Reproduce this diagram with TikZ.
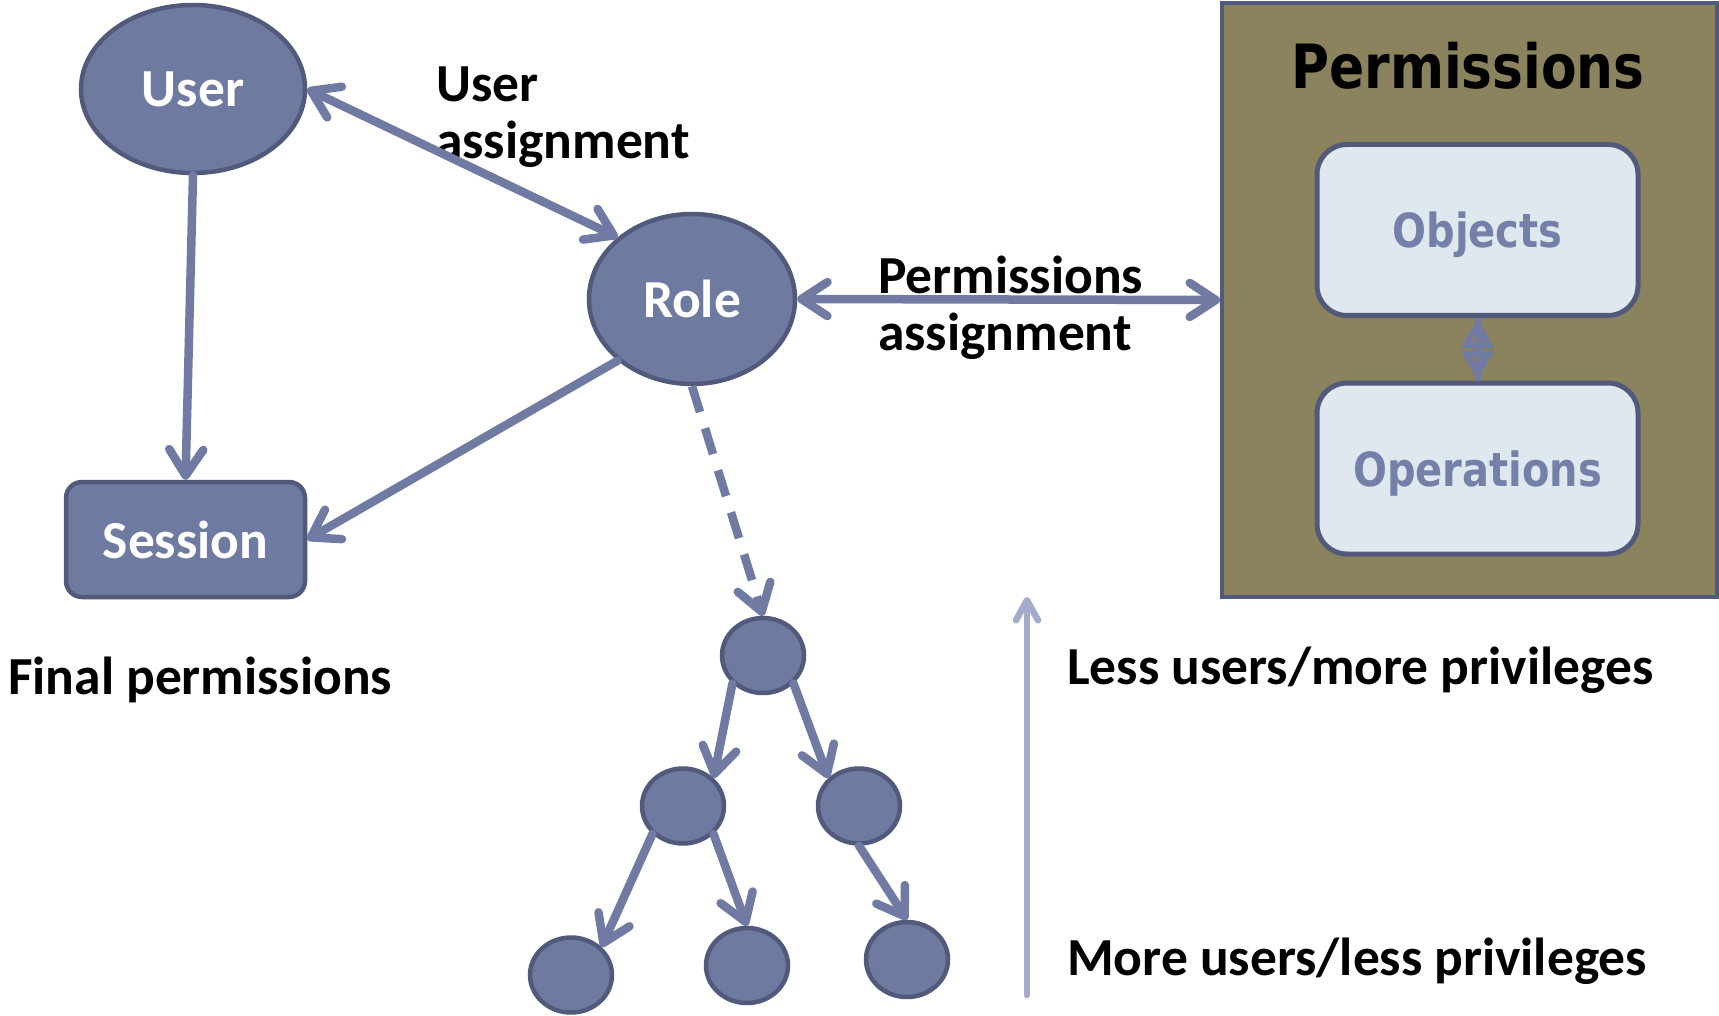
\documentclass[tikz,border=0pt]{standalone}
\usepackage{fontspec}
\usetikzlibrary{arrows.meta,shapes.geometric}
\newfontfamily\labfont{Carlito}
\newfontfamily\widefont{DejaVu Sans}[FakeStretch=0.85]
\definecolor{nodefill}{RGB}{111,122,160}
\definecolor{nodeedge}{RGB}{82,90,124}
\definecolor{linkcol}{RGB}{112,122,162}
\definecolor{olive}{RGB}{139,130,94}
\definecolor{paleblue}{RGB}{222,232,238}
\definecolor{softline}{RGB}{165,171,202}
\definecolor{objtext}{RGB}{117,128,168}

\begin{document}
\begin{tikzpicture}[x=1pt,y=-1pt,
  labtext/.style={font=\labfont\bfseries\fontsize{53.5}{57}\selectfont},
  ellnode/.style={ellipse, draw=nodeedge, fill=nodefill, line width=4.5pt,
    inner sep=0pt, text=white, labtext},
  leaf/.style={ellnode, minimum width=82pt, minimum height=75pt},
  link/.style={draw=linkcol, line width=8.5pt, line cap=round},
  barb/.style={arrows={-Straight Barb[length=26pt,width=34pt,round]}},
  dbarb/.style={arrows={Straight Barb[length=26pt,width=34pt,round]-Straight Barb[length=26pt,width=34pt,round]}},
  caption/.style={labtext, text=black, inner sep=0pt, align=left},
  permbox/.style={rectangle, draw=nodeedge, fill=olive, line width=4pt, inner sep=0pt},
  innerbox/.style={rectangle, rounded corners=30pt, draw=nodeedge, fill=paleblue,
    line width=5pt, inner sep=0pt, minimum width=321pt, minimum height=171pt,
    text=objtext, text depth=0pt, font=\widefont\bfseries\fontsize{47}{50}\selectfont},
  soft/.style={draw=softline, line width=6.5pt, line cap=round,
    arrows={-Straight Barb[length=20pt,width=22pt,round]}}
]
\useasboundingbox (0,0) rectangle (1719,1016);
\fill[white] (0,0) rectangle (1719,1016);

% core entities
\node[ellnode, minimum width=224pt, minimum height=168pt] (user) at (193,89) {User};
\node[ellnode, minimum width=206pt, minimum height=170pt] (role) at (692,299) {Role};
\node[rectangle, rounded corners=16pt, draw=nodeedge, fill=nodefill, line width=4.5pt,
  inner sep=0pt, minimum width=239pt, minimum height=115pt, text=white, labtext]
  (session) at (185.5,539.5) {Session};

% permissions block
\node[permbox, minimum width=495pt, minimum height=594pt] (perm) at (1469.5,300) {};
\node[anchor=base, inner sep=0pt, font=\widefont\bfseries\fontsize{61}{64}\selectfont]
  (permtitle) at (1468,89) {Permissions};
\node[innerbox] (objects) at (1477.5,230) {Objects};
\node[innerbox] (operations) at (1477.5,468.5) {Operations};

% role hierarchy
\node[leaf] (t1) at (763,655.5) {};
\node[leaf] (t2) at (683,806) {};
\node[leaf] (t3) at (859,806) {};
\node[leaf] (b1) at (571,975) {};
\node[leaf] (b2) at (747,965.5) {};
\node[leaf] (b3) at (907,959.5) {};

% captions (two-line ones are placed by the baseline of their last line)
\node[caption, anchor=base west] (ualab) at (436,159) {User\\assignment};
\node[caption, anchor=base west] (palab) at (878,350) {Permissions\\assignment};
\node[caption, anchor=base west] (finlab) at (8,694) {Final permissions};
\node[caption, anchor=base west] (lesslab) at (1067,684) {Less users/more privileges};
\node[caption, anchor=base west] (morelab) at (1067,975) {More users/less privileges};

% connectors
\draw[link, dbarb] (user.east) -- (role.north west);
\draw[link, barb] (user.south) -- (session.north);
\draw[link, barb] (role.south west) -- (session.east);
\draw[link, dbarb] (role.east) -- (perm.west);
\draw[link, barb, dash pattern=on 27pt off 17pt, line cap=butt] (role.south) -- (t1.north);
\draw[link, barb] (t1.south west) -- (t2.north east);
\draw[link, barb] (t1.south east) -- (t3.north west);
\draw[link, barb] (t2.south west) -- (b1.north east);
\draw[link, barb] (t2.south east) -- (b2.north);
\draw[link, barb] (t3.south) -- (b3.north);

% objects <-> operations: open triangles meeting base to base, with the shaft through them
\draw[link, line width=6pt, line cap=butt] (objects.south) -- (operations.north);
\draw[link, line width=6pt, line cap=butt,
  arrows={Triangle[open,length=30pt,width=32pt]-Triangle[open,length=30pt,width=32pt]}]
  (objects.south) -- (operations.north);

% privilege scale
\coordinate (scalelo) at (1027,995);
\coordinate (scalehi) at (1027,597);
\draw[soft] (scalelo) -- (scalehi);
\end{tikzpicture}
\end{document}
